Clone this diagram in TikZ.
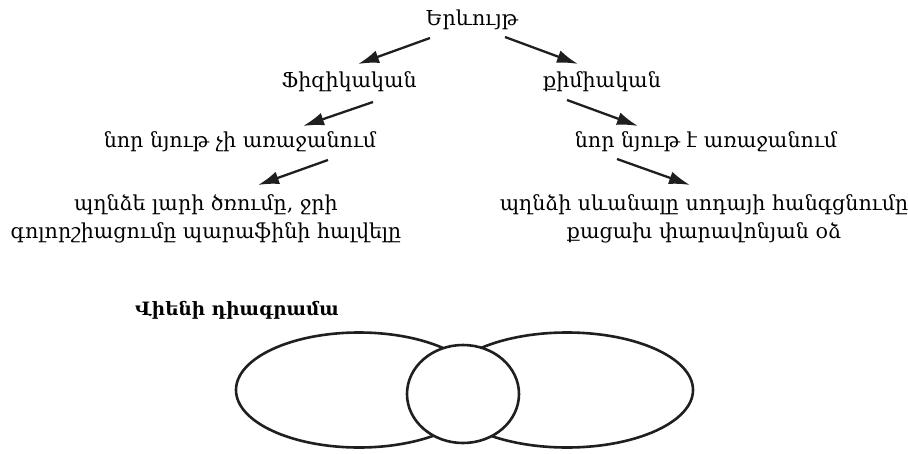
\documentclass[tikz,border=0pt]{standalone}
\usepackage{fontspec}
\setmainfont{DejaVu Serif}
\usetikzlibrary{arrows.meta}

\begin{document}
\begin{tikzpicture}[x=1pt,y=-1pt,>={Latex[length=21pt,width=13pt]}]
\tikzset{lbl/.style={inner sep=0pt,align=center,font=\fontsize{20.6}{28}\selectfont},
         arr/.style={->,line width=2.3pt,black!88},
         venn/.style={line width=2.6pt,black!88}}
\useasboundingbox (0,0) rectangle (908,453);

\node [lbl] (root) at (472,20) {Երևույթ};
\node [lbl] (phys) at (349,82) {Ֆիզիկական};
\node [lbl] (chem) at (602,82) {քիմիական};
\node [lbl] (notnew) at (240,142) {նոր նյութ չի առաջանում};
\node [lbl] (new) at (706,142) {նոր նյութ է առաջանում};
\node [lbl] (exphys) at (206,219) {պղնձե լարի ծռումը, ջրի\\գոլորշիացումը պարաֆինի հալվելը};
\node [lbl] (exchem) at (704,219) {պղնձի սևանալը սոդայի հանգցնումը\\քացախ փարավոնյան օձ};

\foreach \a / \sa / \b / \sb in {
	root/{-42,18}/phys/{9,-18},
	root/{33,17}/chem/{-24,-18},
	phys/{24,20}/notnew/{63,-16},
	chem/{-35,18}/new/{-68,-16},
	notnew/{88,18}/exphys/{52,-34},
	new/{-89,17}/exchem/{-14,-34}%
	}
	{%
		\draw [arr] ([shift={(\sa)}]\a.center) -- ([shift={(\sb)}]\b.center);
	}

\node [lbl,font=\fontsize{18.4}{28}\selectfont\bfseries] (venntitle) at (237,310) {Վիենի դիագրամա};
\draw [venn] (359,390) ellipse [x radius=123, y radius=57.5];
\draw [venn] (567,390) ellipse [x radius=126, y radius=57.5];
\draw [venn,fill=white] (463,394) ellipse [x radius=56, y radius=49];

\end{tikzpicture}
\end{document}
